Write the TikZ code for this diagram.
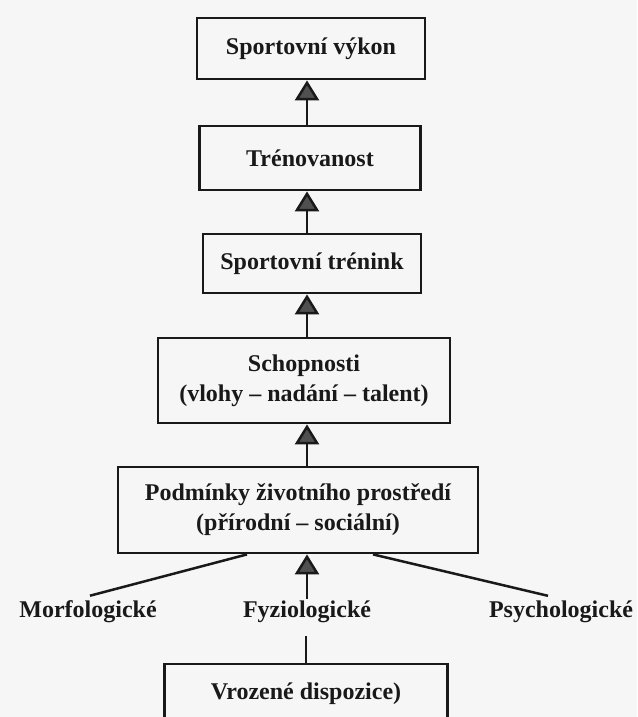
\documentclass[tikz,border=0pt]{standalone}
\usepackage{fontspec}
\setmainfont{Liberation Serif}
\usepackage{xcolor}
\definecolor{myink}{RGB}{25,25,25}
\definecolor{myhead}{RGB}{80,80,80}
\definecolor{mypaper}{RGB}{246,246,246}
\usetikzlibrary{arrows.meta,positioning}
\tikzset{
  stage/.style={draw=myink,line width=2.8pt,rectangle,align=center,text=myink,
    font=\bfseries\fontsize{24}{30}\selectfont,inner sep=0pt},
  factor/.style={text=myink,font=\bfseries\fontsize{24}{30}\selectfont,inner sep=2pt},
  link/.style={draw=myink,line width=2.5pt},
  uparrow/.style={link,-{Triangle[width=24pt,length=20pt,fill=myhead]}}
}
\begin{document}
\begin{tikzpicture}[x=1pt,y=-1pt]
\fill[mypaper] (0,0) rectangle (637,717);
\useasboundingbox (0,0) rectangle (637,717);
\coordinate (axis) at (307,0);
% chain of boxes, bottom to top
\node [stage, minimum width=283pt, minimum height=60pt] (disp) at (306,694) {Vrozené dispozice)};
\node [stage, minimum width=360pt, minimum height=86pt] (prostredi) at (298,510)
  {Podmínky životního prostředí\\(přírodní -- sociální)};
\node [stage, minimum width=292pt, minimum height=85pt] (schop) at (304,380.5)
  {Schopnosti\\(vlohy -- nadání -- talent)};
\node [stage, minimum width=218pt, minimum height=59pt] (trenink) at (312,263.5) {Sportovní trénink};
\node [stage, minimum width=221pt, minimum height=64pt] (trenovanost) at (310,158) {Trénovanost};
\node [stage, minimum width=228pt, minimum height=61pt] (vykon) at (311,48.5) {Sportovní výkon};
% the three kinds of dispositions
\node [factor] (fyz) at (307,612) {Fyziologické};
\node [factor] (morf) at (88,612) {Morfologické};
\node [factor] (psych) at (561,612) {Psychologické};

\draw [uparrow] (axis |- trenovanost.north) -- (axis |- vykon.south);
\draw [uparrow] (axis |- trenink.north) -- (axis |- trenovanost.south);
\draw [uparrow] (axis |- schop.north) -- (axis |- trenink.south);
\draw [uparrow] (axis |- prostredi.north) -- (axis |- schop.south);
\draw [uparrow] (fyz.north) -- (fyz.north |- prostredi.south);
\draw [link] ([xshift=2pt,yshift=3pt]morf.north) -- ([xshift=-51pt]prostredi.south);
\draw [link] ([xshift=-13pt,yshift=3pt]psych.north) -- ([xshift=75pt]prostredi.south);
\draw [link] (disp.north) -- ++(0,-27);
\end{tikzpicture}
\end{document}
